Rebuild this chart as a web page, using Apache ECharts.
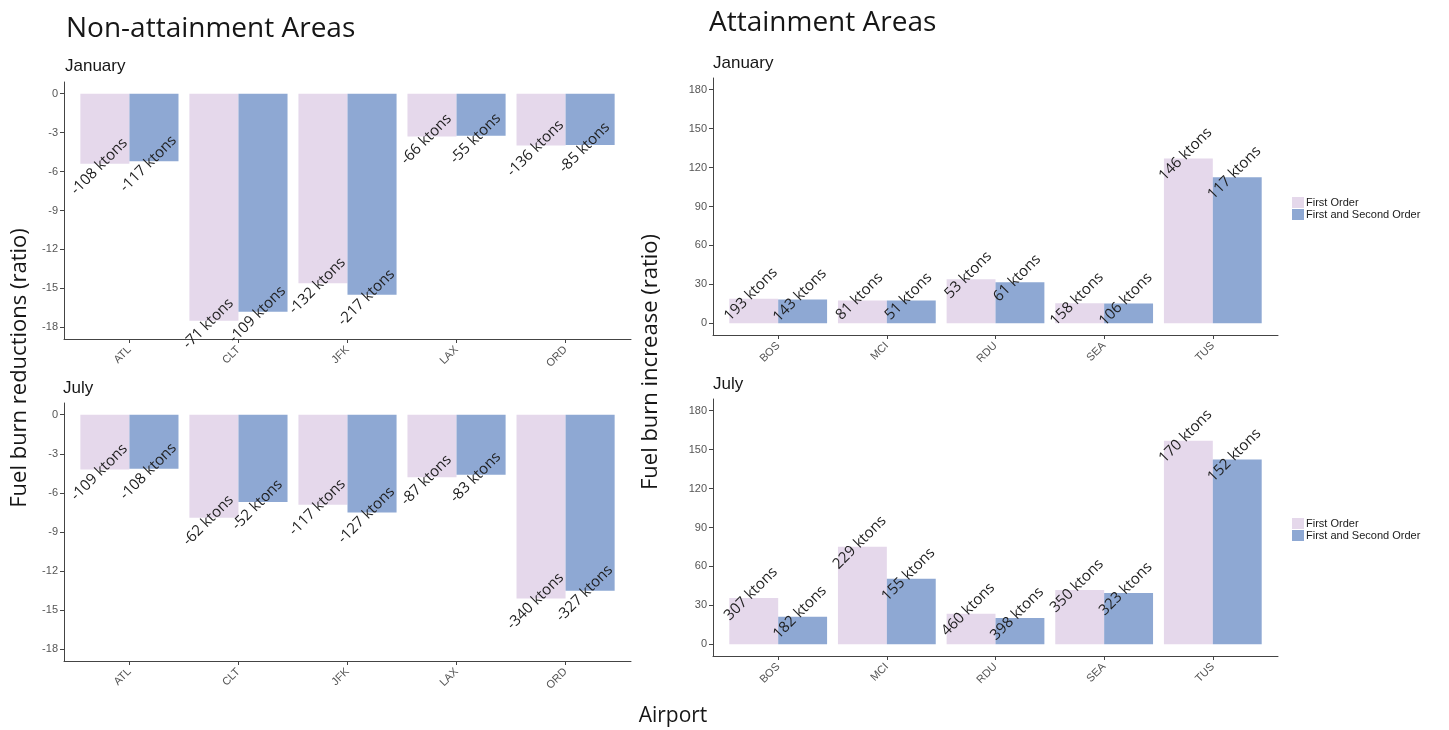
<!DOCTYPE html>
<html>
<head>
<meta charset="utf-8">
<script src="https://cdn.jsdelivr.net/npm/echarts@6/dist/echarts.min.js"></script>
<style>
  html, body { margin: 0; padding: 0; background: #ffffff; }
  #chart { width: 1449px; height: 730px; }
</style>
</head>
<body>
<div id="chart"></div>
<script>
// Airports in each group
const nonAttainAirports = ['ATL', 'CLT', 'JFK', 'LAX', 'ORD'];
const attainAirports = ['BOS', 'MCI', 'RDU', 'SEA', 'TUS'];

// Non-attainment areas: fuel burn reduction (ratio) and the ktons behind it
const nonJanFirst = [-5.4, -17.5, -14.6, -3.3, -4.0];
const nonJanBoth = [-5.2, -16.8, -15.5, -3.25, -3.95];
const nonJanFirstKt = [-108, -71, -132, -66, -136];
const nonJanBothKt = [-117, -109, -217, -55, -85];

const nonJulFirst = [-4.2, -7.9, -6.9, -4.8, -14.1];
const nonJulBoth = [-4.15, -6.7, -7.5, -4.6, -13.5];
const nonJulFirstKt = [-109, -62, -117, -87, -340];
const nonJulBothKt = [-108, -52, -127, -83, -327];

// Attainment areas: fuel burn increase (ratio) and the ktons behind it
const attJanFirst = [19.0, 17.5, 33.9, 15.4, 127.0];
const attJanBoth = [18.3, 17.5, 31.6, 15.2, 112.6];
const attJanFirstKt = [193, 81, 53, 158, 146];
const attJanBothKt = [143, 51, 61, 106, 117];

const attJulFirst = [35.6, 75.1, 23.6, 41.8, 156.9];
const attJulBoth = [21.3, 50.5, 20.3, 39.5, 142.3];
const attJulFirstKt = [307, 229, 460, 350, 170];
const attJulBothKt = [182, 155, 398, 323, 152];

// Tick marks
const nonAttainTicks = [-18, -15, -12, -9, -6, -3, 0];
const attainTicks = [0, 30, 60, 90, 120, 150, 180];
const airportSlots = [0, 1, 2, 3, 4];

const FIRST = 'First Order';
const BOTH = 'First and Second Order';
const PINK = '#E5D8EB';
const BLUE = '#8EA8D3';
const AXIS = '#444444';
const TICK_TEXT = '#555555';

const grids = [
  { left: 64, top: 82, width: 567, height: 257 },
  { left: 64, top: 403, width: 567, height: 258 },
  { left: 713, top: 78, width: 565, height: 257 },
  { left: 713, top: 399, width: 565, height: 257 }
];

function xAxisFor(i, names) {
  return {
    type: 'value', gridIndex: i, min: -0.6, max: 4.6,
    splitLine: { show: false },
    axisLine: { show: true, onZero: false, lineStyle: { color: AXIS, width: 1 } },
    axisTick: { show: true, customValues: airportSlots, length: 4, lineStyle: { color: AXIS } },
    axisLabel: {
      customValues: airportSlots, rotate: 45, margin: 9,
      formatter: v => names[Math.round(v)] || '',
      color: TICK_TEXT, fontSize: 11, fontFamily: 'Liberation Sans'
    }
  };
}

function yAxisFor(i, min, max, ticks) {
  return {
    type: 'value', gridIndex: i, min: min, max: max,
    splitLine: { show: false },
    axisLine: { show: true, onZero: false, lineStyle: { color: AXIS, width: 1 } },
    axisTick: { show: true, customValues: ticks, length: 4, lineStyle: { color: AXIS } },
    axisLabel: {
      customValues: ticks, margin: 6,
      color: TICK_TEXT, fontSize: 11, fontFamily: 'Liberation Sans'
    }
  };
}

function barSeries(name, gridIdx, values, ktons, color, offset) {
  return {
    type: 'bar', name: name,
    xAxisIndex: gridIdx, yAxisIndex: gridIdx,
    data: values.map((v, k) => [k, v]),
    barGap: '0%', barCategoryGap: '10%',
    itemStyle: { color: color },
    label: {
      show: true, position: 'outside', distance: 0, rotate: 45,
      align: 'center', verticalAlign: 'middle', offset: offset,
      formatter: p => ktons[p.dataIndex] + ' ktons',
      fontFamily: 'Open Sans', fontSize: 15, color: '#1e1e1e'
    },
    emphasis: { disabled: true },
    animation: false
  };
}

function legendAt(top) {
  return {
    data: [FIRST, BOTH], orient: 'vertical', left: 1292, top: top,
    itemWidth: 12, itemHeight: 11, itemGap: 1, padding: 0, icon: 'rect',
    selectedMode: false,
    textStyle: { fontSize: 11, lineHeight: 11, color: '#1a1a1a', fontFamily: 'Liberation Sans', padding: [0, 0, 0, -3] }
  };
}

function label(text, x, y, font, rotation) {
  return {
    type: 'text', x: x, y: y, rotation: rotation || 0, silent: true,
    style: {
      text: text, font: font, fill: '#161616',
      align: rotation ? 'center' : 'left', verticalAlign: 'middle',
      textAlign: rotation ? 'center' : 'left', textVerticalAlign: 'middle'
    }
  };
}

const chart = echarts.init(document.getElementById('chart'), null, { renderer: 'canvas' });

chart.setOption({
  backgroundColor: '#ffffff',
  animation: false,
  grid: grids,
  xAxis: [
    xAxisFor(0, nonAttainAirports),
    xAxisFor(1, nonAttainAirports),
    xAxisFor(2, attainAirports),
    xAxisFor(3, attainAirports)
  ],
  yAxis: [
    yAxisFor(0, -18.9, 0.9, nonAttainTicks),
    yAxisFor(1, -18.9, 0.9, nonAttainTicks),
    yAxisFor(2, -9, 189, attainTicks),
    yAxisFor(3, -9, 189, attainTicks)
  ],
  legend: [legendAt(197), legendAt(518)],
  series: [
    barSeries(FIRST, 0, nonJanFirst, nonJanFirstKt, PINK, [-6, -2]),
    barSeries(BOTH, 0, nonJanBoth, nonJanBothKt, BLUE, [-6, -2]),
    barSeries(FIRST, 1, nonJulFirst, nonJulFirstKt, PINK, [-6, -2]),
    barSeries(BOTH, 1, nonJulBoth, nonJulBothKt, BLUE, [-6, -2]),
    barSeries(FIRST, 2, attJanFirst, attJanFirstKt, PINK, [1, -5]),
    barSeries(BOTH, 2, attJanBoth, attJanBothKt, BLUE, [1, -5]),
    barSeries(FIRST, 3, attJulFirst, attJulFirstKt, PINK, [1, -5]),
    barSeries(BOTH, 3, attJulBoth, attJulBothKt, BLUE, [1, -5])
  ],
  graphic: [
    label('Non-attainment Areas', 66, 29, '28px "Open Sans"'),
    label('Attainment Areas', 709, 23, '28px "Open Sans"'),
    label('January', 65, 66, '17px "Liberation Sans"'),
    label('January', 713, 63, '17px "Liberation Sans"'),
    label('July', 63, 388, '17px "Liberation Sans"'),
    label('July', 713, 384, '17px "Liberation Sans"'),
    label('Fuel burn reductions (ratio)', 20, 368, '22px "Open Sans"', Math.PI / 2),
    label('Fuel burn increase (ratio)', 651, 362, '22px "Open Sans"', Math.PI / 2),
    label('Airport', 673, 716, '21px "Open Sans"', 0.0000001)
  ]
});
</script>
</body>
</html>
